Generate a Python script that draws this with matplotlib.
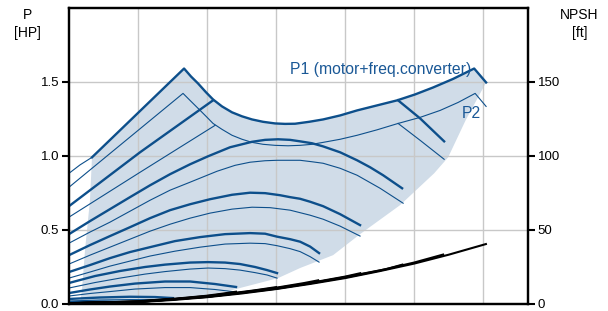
import matplotlib
matplotlib.use("Agg")
import matplotlib.pyplot as plt
import numpy as np

plt.rcParams['font.family'] = ['Liberation Sans', 'DejaVu Sans']

# ---------------- data (flow axis is unlabeled; grid every 10 units) ----------------
nan = np.nan
# P1 (thick) / P2 (thin) curves per speed, power in HP
p1a_x = [3.33, 16.67, 17.68, 18.70, 19.86, 20.87, 22.17, 23.62, 25.07, 26.52, 28.12, 29.86, 31.30,
         32.75, 34.78, 36.81, 39.28, 41.74, 44.64, 47.54, 50.14, 52.75, 55.65, 58.70, 60.43]
p1a_y = [0.991, 1.591, 1.537, 1.490, 1.430, 1.382, 1.335, 1.295, 1.268, 1.247, 1.231, 1.220, 1.217,
         1.218, 1.231, 1.247, 1.274, 1.308, 1.342, 1.376, 1.416, 1.463, 1.521, 1.591, 1.497]
p1a_lead_x = [0.0, 1.6, 3.33]
p1a_lead_y = [0.883, 0.940, 0.991]
p2a_x = [0.0, 16.52, 17.68, 18.70, 19.86, 20.87, 22.17, 23.62, 25.07, 26.52, 28.12, 29.86, 31.74,
         33.48, 35.22, 36.81, 39.28, 41.74, 44.64, 47.68, 50.87, 53.77, 56.38, 58.84, 60.43]
p2a_y = [0.789, 1.423, 1.369, 1.322, 1.268, 1.220, 1.180, 1.140, 1.113, 1.092, 1.079, 1.072, 1.069,
         1.072, 1.079, 1.092, 1.113, 1.140, 1.177, 1.220, 1.261, 1.308, 1.362, 1.423, 1.335]

p1b_x = [0.0, 10.29, 20.87, nan, 47.68, 50.87, 54.35]
p1b_y = [0.661, 1.025, 1.376, nan, 1.376, 1.254, 1.099]
p2b_x = [0.0, 10.29, 21.16, nan, 47.68, 50.87, 54.35]
p2b_y = [0.587, 0.890, 1.207, nan, 1.220, 1.106, 0.978]

p1c_x = [0.0, 3.04, 5.94, 8.84, 11.74, 14.64, 17.54, 20.14, 23.33, 26.52, 28.41, 30.29, 32.03,
         33.48, 35.22, 36.81, 39.28, 41.74, 43.62, 45.51, 48.26]
p1c_y = [0.472, 0.560, 0.641, 0.722, 0.802, 0.877, 0.944, 0.998, 1.059, 1.096, 1.109, 1.113, 1.109,
         1.099, 1.086, 1.065, 1.025, 0.971, 0.924, 0.870, 0.782]
p2c_x = [0.0, 3.04, 5.94, 8.84, 11.74, 14.64, 17.54, 21.45, 24.06, 26.23, 28.41, 30.14, 32.03,
         33.48, 35.22, 36.81, 39.28, 41.74, 45.07, 48.41]
p2c_y = [0.411, 0.486, 0.553, 0.627, 0.701, 0.769, 0.823, 0.897, 0.937, 0.958, 0.968, 0.971, 0.971,
         0.971, 0.961, 0.951, 0.917, 0.870, 0.782, 0.681]

p1d_x = [0.0, 3.04, 5.94, 8.84, 11.74, 14.64, 17.54, 20.43, 23.62, 26.23, 28.41, 30.58, 32.03,
         33.48, 34.93, 36.81, 39.28, 42.17]
p1d_y = [0.330, 0.398, 0.459, 0.519, 0.580, 0.634, 0.674, 0.708, 0.738, 0.752, 0.749, 0.735, 0.722,
         0.711, 0.691, 0.661, 0.607, 0.533]
p2d_x = [0.0, 3.04, 5.94, 8.84, 11.74, 14.64, 17.54, 20.43, 23.62, 26.52, 29.13, 32.03, 34.93,
         36.81, 39.28, 42.17]
p2d_y = [0.270, 0.330, 0.384, 0.438, 0.492, 0.539, 0.580, 0.614, 0.641, 0.654, 0.651, 0.634, 0.600,
         0.573, 0.526, 0.459]

p1e_x = [0.0, 3.04, 5.94, 8.84, 11.74, 15.36, 18.99, 22.61, 26.23, 28.41, 30.14, 32.03, 33.48, 34.93, 36.23]
p1e_y = [0.216, 0.263, 0.310, 0.351, 0.384, 0.425, 0.452, 0.472, 0.479, 0.475, 0.455, 0.438, 0.421, 0.388, 0.344]
p2e_x = [0.0, 3.04, 5.94, 8.84, 11.74, 15.36, 18.99, 22.61, 26.23, 28.41, 30.14, 32.03, 33.48, 34.93, 36.23]
p2e_y = [0.175, 0.216, 0.256, 0.290, 0.324, 0.357, 0.384, 0.405, 0.411, 0.408, 0.394, 0.374, 0.354, 0.320, 0.283]

p1f_x = [0.0, 3.77, 7.39, 11.01, 13.91, 17.54, 20.14, 22.61, 24.78, 26.96, 28.70, 30.14]
p1f_y = [0.142, 0.189, 0.223, 0.250, 0.266, 0.280, 0.283, 0.280, 0.270, 0.250, 0.229, 0.209]
p2f_x = [0.0, 3.77, 7.39, 11.01, 13.91, 17.54, 20.14, 22.61, 24.78, 26.96, 28.70, 30.14]
p2f_y = [0.108, 0.145, 0.175, 0.202, 0.219, 0.236, 0.243, 0.239, 0.229, 0.212, 0.196, 0.175]

p1g_x = [0.0, 3.04, 5.94, 9.57, 13.91, 17.54, 21.16, 24.20]
p1g_y = [0.074, 0.098, 0.118, 0.138, 0.152, 0.152, 0.135, 0.115]
p2g_x = [0.0, 3.04, 5.94, 9.57, 13.91, 17.54, 21.16, 24.20]
p2g_y = [0.054, 0.071, 0.084, 0.101, 0.111, 0.111, 0.098, 0.081]

p1h_x = [0.0, 4.49, 8.84, 12.46, 15.07]
p1h_y = [0.034, 0.044, 0.049, 0.047, 0.040]
p2h_x = [0.0, 4.49, 8.84, 12.46, 15.07]
p2h_y = [0.020, 0.027, 0.030, 0.029, 0.024]

p1i_x = [0.0, 5.0, 9.0]
p1i_y = [0.014, 0.016, 0.012]

# shaded operating range: right/bottom/left boundary (top follows P1 curve)
rim_x = [60.43, 57.46, 54.93, 52.90, 47.97, 42.17, 38.26, 33.48, 30.29, 23.62, 18.70, 11.45, 2.61, 1.59, 1.88, 2.32, 3.04, 3.33]
rim_y = [1.497, 1.241, 0.991, 0.883, 0.668, 0.472, 0.330, 0.243, 0.175, 0.094, 0.047, 0.013, 0.007, 0.007, 0.094, 0.364, 0.701, 0.991]

# NPSH curves (ft) per speed
npsh_a_x = [0, 5, 10, 15, 20, 25, 30, 35, 40, 45, 50, 55, 60.4]
npsh_a_y = [0.5, 0.8, 1.3, 2.7, 4.6, 7.1, 10.1, 13.6, 17.5, 22.2, 27.3, 33.3, 40.5]
npsh_b_x = [0, 10, 20, 30, 40, 45, 50, 54.2]
npsh_b_y = [0.5, 1.4, 4.8, 10.3, 17.9, 22.6, 28.0, 33.4]
npsh_c_x = [0, 10, 20, 30, 35, 40, 46, 48.3]
npsh_c_y = [0.5, 1.4, 4.9, 10.5, 14.0, 18.2, 23.6, 26.6]
npsh_d_x = [0, 10, 20, 25, 30, 35, 40, 42.2]
npsh_d_y = [0.5, 1.5, 5.0, 7.6, 10.7, 14.3, 18.5, 20.8]
npsh_e_x = [0, 10, 15, 20, 25, 30, 34, 36.1]
npsh_e_y = [0.5, 1.5, 3.0, 5.2, 7.8, 11.0, 14.1, 16.0]
npsh_f_x = [0, 10, 15, 20, 24, 27, 30.0]
npsh_f_y = [0.5, 1.6, 3.2, 5.4, 7.5, 9.3, 11.4]
npsh_g_x = [0, 10, 15, 20, 24.2]
npsh_g_y = [0.6, 1.7, 3.4, 5.6, 8.3]
npsh_h_x = [0, 5, 10, 15.1]
npsh_h_y = [0.6, 1.0, 1.9, 3.6]

p_ticks = [0.0, 0.5, 1.0, 1.5]
p_ticklabels = ["0.0", "0.5", "1.0", "1.5"]
npsh_ticks = [0, 50, 100, 150]
x_grid = [10, 20, 30, 40, 50, 60]

# ---------------- drawing ----------------
BLUE = "#0d4f8b"
SHADE = "#d0dce8"
TXT = "#1a5896"

fig = plt.figure(figsize=(6.08, 3.11), dpi=100)
ax = fig.add_axes([69/608, 7/311, (528-69)/608, (304-8)/311])
ax.set_xlim(0, 66.5)
ax.set_ylim(0, 2.0)

shade_x = list(p1a_x) + rim_x
shade_y = list(p1a_y) + rim_y
ax.fill(shade_x, shade_y, color=SHADE, lw=0, zorder=0.3)

for gx in x_grid:
    ax.axvline(gx, color="#c8c8c8", lw=1.0, zorder=0.6)
for gy in p_ticks[1:]:
    ax.axhline(gy, color="#c8c8c8", lw=1.0, zorder=0.6)

thick = 1.7
thin = 0.8
ax.plot(p1a_lead_x, p1a_lead_y, color=BLUE, lw=thin, zorder=3)
for (x, y, w) in [
    (p1a_x, p1a_y, thick), (p2a_x, p2a_y, thin),
    (p1b_x, p1b_y, thick), (p2b_x, p2b_y, thin),
    (p1c_x, p1c_y, thick), (p2c_x, p2c_y, thin),
    (p1d_x, p1d_y, thick), (p2d_x, p2d_y, thin),
    (p1e_x, p1e_y, thick), (p2e_x, p2e_y, thin),
    (p1f_x, p1f_y, thick), (p2f_x, p2f_y, thin),
    (p1g_x, p1g_y, thick), (p2g_x, p2g_y, thin),
    (p1h_x, p1h_y, thick), (p2h_x, p2h_y, thin),
    (p1i_x, p1i_y, thick),
]:
    ax.plot(x, y, color=BLUE, lw=w, zorder=3, solid_joinstyle="round")

ax.text(32.0, 1.585, "P1 (motor+freq.converter)", color=TXT, fontsize=11.3,
        ha="left", va="center", zorder=4)
ax.text(58.26, 1.288, "P2", color=TXT, fontsize=11.3, ha="center", va="center", zorder=4)

ax.set_xticks([])
ax.set_yticks(p_ticks)
ax.set_yticklabels(p_ticklabels)
ax.tick_params(axis="y", direction="out", length=5, width=1.5, labelsize=9.5, pad=2)
for s in ax.spines.values():
    s.set_linewidth(1.6)
    s.set_color("black")

ax2 = ax.twinx()
ax2.set_ylim(0, 200)
ax2.set_xlim(0, 66.5)
for (x, y) in [(npsh_a_x, npsh_a_y), (npsh_b_x, npsh_b_y), (npsh_c_x, npsh_c_y),
               (npsh_d_x, npsh_d_y), (npsh_e_x, npsh_e_y), (npsh_f_x, npsh_f_y),
               (npsh_g_x, npsh_g_y), (npsh_h_x, npsh_h_y)]:
    ax2.plot(x, y, color="black", lw=1.5, zorder=3)
ax2.set_yticks(npsh_ticks)
ax2.tick_params(axis="y", direction="out", length=5, width=1.5, labelsize=9.5, pad=2)
for s in ax2.spines.values():
    s.set_linewidth(1.6)

fig.text(28/608, 1 - 15/311, "P", fontsize=10, ha="center", va="center")
fig.text(27/608, 1 - 33/311, "[HP]", fontsize=10, ha="center", va="center")
fig.text(579/608, 1 - 15/311, "NPSH", fontsize=10, ha="center", va="center")
fig.text(580/608, 1 - 33/311, "[ft]", fontsize=10, ha="center", va="center")

fig.savefig("out.png", dpi=100)
